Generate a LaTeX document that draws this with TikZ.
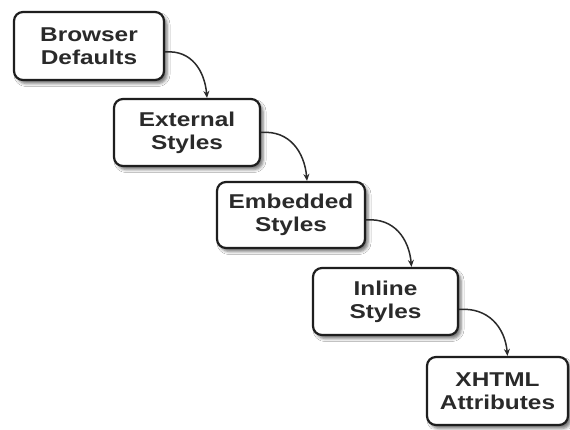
\documentclass[tikz,border=0pt]{standalone}
\usepackage{fontspec}
\setmainfont{Liberation Sans}[FakeStretch=1.22]
\usetikzlibrary{shadows.blur,arrows.meta}
\definecolor{ink}{HTML}{2A2A2A}
\definecolor{edge}{HTML}{1E1E1E}
\tikzset{
  stepbox/.style={draw=edge, line width=2.2pt, rounded corners=9pt, fill=white,
    align=center, inner sep=0pt, text=ink,
    font=\fontsize{20}{23}\selectfont\bfseries,
    blur shadow={shadow xshift=3pt, shadow yshift=-3.5pt, shadow blur radius=3pt, shadow opacity=55}},
  flow/.style={draw=ink, line width=1.5pt, -{Stealth[length=7pt,width=6pt]}, looseness=1.1}
}
\begin{document}
\begin{tikzpicture}[x=1pt,y=1pt]
\useasboundingbox (0,0) rectangle (570,429);
\fill[white] (0,0) rectangle (570,429);
\node[stepbox, minimum width=150pt, minimum height=68pt] (b1) at (89,383) {Browser\\Defaults};
\node[stepbox, minimum width=146pt, minimum height=67pt] (b2) at (187,296.5) {External\\Styles};
\node[stepbox, minimum width=148pt, minimum height=66pt] (b3) at (291,214) {Embedded\\Styles};
\node[stepbox, minimum width=145pt, minimum height=67pt] (b4) at (385.5,127.5) {Inline\\Styles};
\node[stepbox, minimum width=141pt, minimum height=68pt] (b5) at (497.5,38) {XHTML\\Attributes};
\draw[flow] ([yshift=-6pt]b1.east) to[out=5,in=95] ([xshift=20pt]b2.north);
\draw[flow] ([yshift=0pt]b2.east) to[out=5,in=95] ([xshift=16pt]b3.north);
\draw[flow] ([yshift=-5pt]b3.east) to[out=5,in=95] ([xshift=26pt]b4.north);
\draw[flow] ([yshift=-8pt]b4.east) to[out=5,in=95] ([xshift=10pt]b5.north);
\end{tikzpicture}
\end{document}
